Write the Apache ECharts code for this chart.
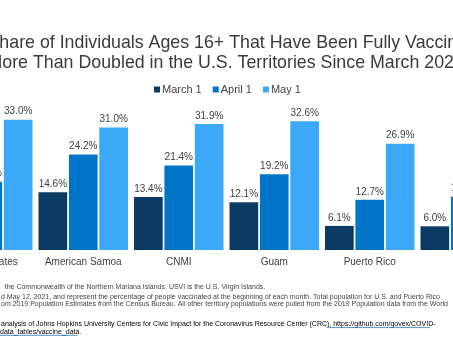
<!DOCTYPE html>
<html>
<head>
<meta charset="utf-8">
<script src="https://cdn.jsdelivr.net/npm/echarts@6/dist/echarts.min.js"></script>
<style>
html,body{margin:0;padding:0;width:453px;height:340px;overflow:hidden;background:#fff;}
#wrap{position:absolute;left:-80px;top:0;width:620px;height:340px;}
</style>
</head>
<body>
<div id="wrap"></div>
<script>
var categories = ['United States', 'American Samoa', 'CNMI', 'Guam', 'Puerto Rico', 'USVI'];
var march1 = [7.7, 14.6, 13.4, 12.1, 6.1, 6.0];
var april1 = [17.3, 24.2, 21.4, 19.2, 12.7, 13.5];
var may1 = [33.0, 31.0, 31.9, 32.6, 26.9, 22.0];
var seriesNames = ['March 1', 'April 1', 'May 1'];
var titleLines = ['Share of Individuals Ages 16+ That Have Been Fully Vaccinated Has', 'More Than Doubled in the U.S. Territories Since March 2021'];
var noteLines = [
  'the Commonwealth of the Northern Mariana Islands. USVI is the U.S. Virgin Islands.',
  'd May 12, 2021, and represent the percentage of people vaccinated at the beginning of each month. Total population for U.S. and Puerto Rico',
  'om 2019 Population Estimates from the Census Bureau. All other territory populations were pulled from the 2019 Population data from the World'
];
var sourceText = 'analysis of Johns Hopkins University Centers for Civic Impact for the Coronavirus Resource Center (CRC), ';
var linkLine1 = 'https://github.com/govex/COVID-';
var linkLine2 = 'data_tables/vaccine_data';

var colors = ['#0b3b63', '#0275c8', '#3ba9f7'];
var font = '"Liberation Sans", Arial, sans-serif';
var chart = echarts.init(document.getElementById('wrap'), null, {renderer: 'canvas'});

function mk(name, data, color) {
  return {
    name: name, type: 'bar', data: data,
    barGap: '6%', barCategoryGap: '6.3%',
    itemStyle: {color: color},
    label: {
      show: true, position: 'top', distance: 3,
      fontFamily: font, fontSize: 10, color: '#404040',
      formatter: function (p) { return p.value.toFixed(1) + '%'; }
    }
  };
}

var noteStyle = {fontFamily: font, fontSize: 7, fill: '#444'};
chart.setOption({
  animation: false,
  textStyle: {fontFamily: font},
  title: {
    text: titleLines.join('\n'),
    left: 67.5, top: 33, padding: 0,
    textStyle: {fontFamily: font, fontSize: 17.8, fontWeight: 'normal', color: '#3a3a3a', lineHeight: 20}
  },
  legend: {
    data: seriesNames, left: 234, top: 84, itemWidth: 6, itemHeight: 6, itemGap: 11, padding: 0,
    icon: 'rect',
    textStyle: {fontFamily: font, fontSize: 11, color: '#404040', padding: [0, 0, 0, -3]}
  },
  grid: {left: 20, right: 27, top: 92, bottom: 90},
  xAxis: {
    type: 'category', data: categories,
    axisLine: {show: false}, axisTick: {show: false},
    axisLabel: {fontFamily: font, fontSize: 10, color: '#404040', margin: 7, interval: 0}
  },
  yAxis: {type: 'value', min: 0, max: 40, show: false, splitLine: {show: false}},
  series: [mk(seriesNames[0], march1, colors[0]), mk(seriesNames[1], april1, colors[1]), mk(seriesNames[2], may1, colors[2])],
  graphic: [
    {type: 'text', left: 84.7, top: 283.5, style: Object.assign({text: noteLines[0]}, noteStyle)},
    {type: 'text', left: 81, top: 293.5, style: Object.assign({text: noteLines[1]}, noteStyle)},
    {type: 'text', left: 81, top: 300.5, style: Object.assign({text: noteLines[2]}, noteStyle)},
    {type: 'text', left: 81, top: 321, style: {
      text: '{a|' + sourceText + '}{l|' + linkLine1 + '}',
      rich: {a: {fontFamily: font, fontSize: 7, color: '#444'}, l: {fontFamily: font, fontSize: 7, color: '#0563c1'}}
    }},
    {type: 'text', left: 80, top: 329, style: {
      text: '{l|' + linkLine2 + '}{a|.}',
      rich: {a: {fontFamily: font, fontSize: 7, color: '#444'}, l: {fontFamily: font, fontSize: 7, color: '#0563c1'}}
    }},
    {type: 'line', shape: {x1: 408.3, y1: 327.6, x2: 510, y2: 327.6}, style: {stroke: '#0563c1', lineWidth: 0.7}},
    {type: 'line', shape: {x1: 80, y1: 335.3, x2: 157.5, y2: 335.3}, style: {stroke: '#0563c1', lineWidth: 0.7}}
  ]
});
</script>
</body>
</html>
